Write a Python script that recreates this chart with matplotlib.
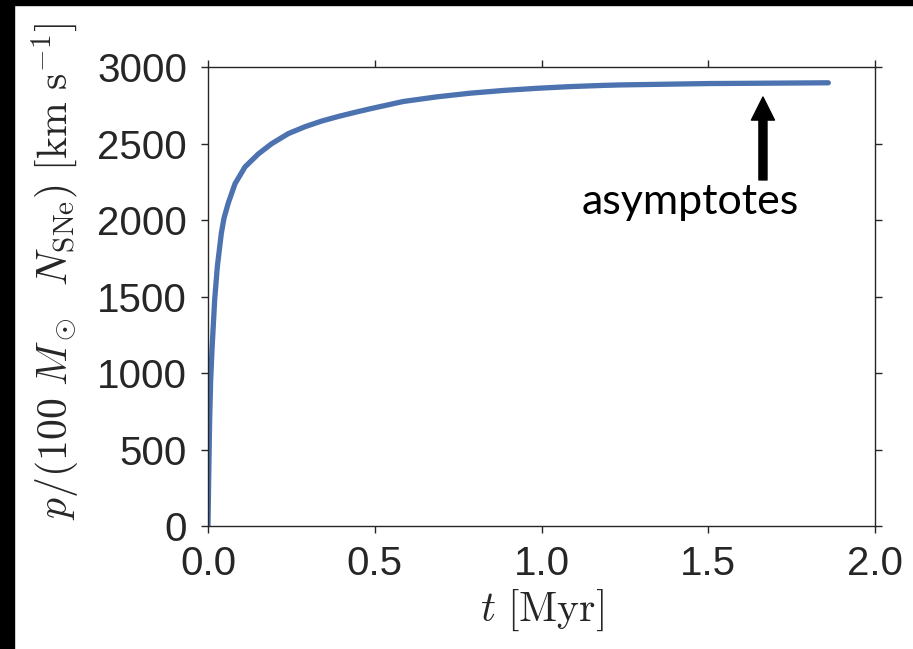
import matplotlib
matplotlib.use("Agg")
import matplotlib.pyplot as plt
from matplotlib.patches import Rectangle

# momentum per SN vs time
t_myr = [0, 0.002, 0.005, 0.008, 0.012, 0.02, 0.028, 0.04, 0.048, 0.061,
         0.081, 0.111, 0.151, 0.191, 0.241, 0.291, 0.341, 0.391, 0.441, 0.486,
         0.586, 0.686, 0.786, 0.886, 0.986, 1.085, 1.185, 1.235, 1.5, 1.86]
p_mom = [0, 300, 700, 950, 1154, 1480, 1698, 1916, 2015, 2115,
         2240, 2350, 2435, 2502, 2568, 2613, 2650, 2680, 2707, 2730,
         2778, 2808, 2832, 2850, 2864, 2875, 2883, 2886, 2895, 2900]

xticks = [0.0, 0.5, 1.0, 1.5, 2.0]
yticks = [0, 500, 1000, 1500, 2000, 2500, 3000]

note_text = "asymptotes"
note_x, note_y = 1.445, 2040
arrow_x, arrow_y0, arrow_y1 = 1.664, 2265, 2807

plt.rcParams['mathtext.fontset'] = 'cm'
plt.rcParams['font.family'] = ['Liberation Sans', 'DejaVu Sans']

fig = plt.figure(figsize=(9.13, 6.49), dpi=100)
ax = fig.add_axes([0.2278, 0.1888, 0.7306, 0.7072])

ax.plot(t_myr, p_mom, color='#4C72B0', lw=3.8, solid_capstyle='round',
        solid_joinstyle='round')

ax.set_xlim(0, 2.0)
ax.set_ylim(0, 3000)
ax.set_xticks(xticks)
ax.set_yticks(yticks)
ax.set_xticklabels([f"{v:.1f}" for v in xticks])
ax.set_yticklabels([str(v) for v in yticks])

gray = '#262626'
for s in ax.spines.values():
    s.set_color(gray)
    s.set_linewidth(1.0)
ax.tick_params(direction='out', length=5, width=1, color=gray, labelcolor=gray,
               labelsize=29, top=True, right=True)
ax.tick_params(axis='y', pad=10)
ax.tick_params(axis='x', pad=8)

ax.set_xlabel(r'$t\ [{\rm Myr}]$', fontsize=30, color=gray, labelpad=4)
ax.set_ylabel(r'$p/(100\ M_\odot\ \ N_{\rm SNe})\ [{\rm km\ s^{-1}}]$',
              fontsize=30, color=gray)
ax.yaxis.set_label_coords(-0.19, 0.555)

ax.annotate('', xy=(arrow_x, arrow_y1), xytext=(arrow_x, arrow_y0),
            arrowprops=dict(arrowstyle='simple, head_length=1.0, head_width=1.0, tail_width=0.35',
                            mutation_scale=16.6, color='black', shrinkA=0, shrinkB=0))
ax.text(note_x, note_y, note_text, ha='center', va='baseline', fontsize=31,
        family=['Lato', 'DejaVu Sans'], color='black')

# black frame strips on top and left of the original screenshot
fig.patches.append(Rectangle((0, 1 - 5 / 649), 1, 5 / 649, transform=fig.transFigure,
                             color='black', zorder=-1))
fig.patches.append(Rectangle((0, 0), 14 / 913, 1, transform=fig.transFigure,
                             color='black', zorder=-1))

fig.savefig('out.png', dpi=100)
